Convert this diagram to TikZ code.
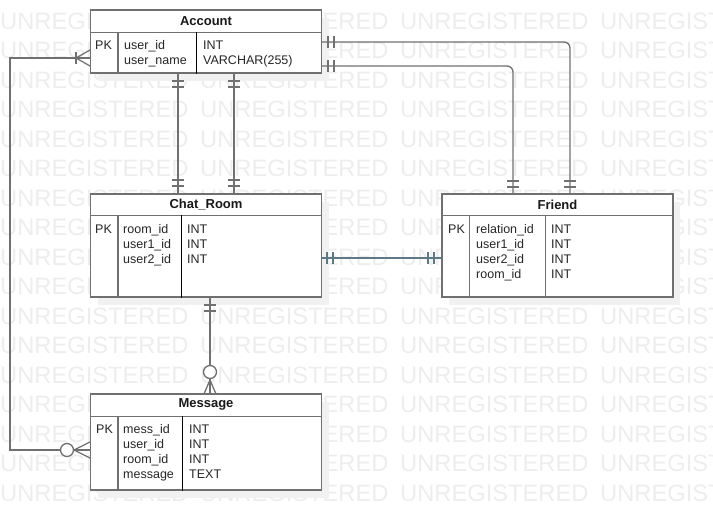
\documentclass[tikz,border=0pt]{standalone}
\usepackage{fontspec}
\setmainfont{Liberation Sans}
\usetikzlibrary{shadows}
\definecolor{linec}{HTML}{707070}
\definecolor{wm}{HTML}{EDEDED}
\definecolor{bluegray}{HTML}{5E7886}
\definecolor{shad}{HTML}{F1F1F1}
\begin{document}
\begin{tikzpicture}[x=1pt,y=-1pt,
 tbl/.style={draw=linec, line width=1.3pt, fill=white, inner sep=0pt, minimum width=231pt,
   drop shadow={shadow xshift=7pt, shadow yshift=-8pt, fill=shad, opacity=1}},
 tline/.style={draw=linec, line width=1.3pt},
 dline/.style={draw=black, line width=0.8pt},
 hdr/.style={font=\fontsize{13}{15}\bfseries\selectfont, inner sep=0pt, text=black!90},
 cell/.style={font=\fontsize{12.5}{15}\selectfont, inner sep=0pt, anchor=base west, text=black!85},
 conn/.style={draw=linec, line width=1.3pt},
 mk/.style={draw=linec, line width=1.3pt},
 wmk/.style={font=\fontsize{23.7}{28}\selectfont, text=wm, inner sep=0pt, anchor=west},
]
\useasboundingbox (0,0) rectangle (713,530);
\begin{scope}
\clip (0,0) rectangle (713,530);
\foreach \r in {0,...,16} {
  \foreach \c in {0,...,3} {
    \node[wmk] (wm-\r-\c) at (200*\c, 21+29.5*\r) {UNREGISTERED};
  }
}
\end{scope}

% ---------- Account ----------
\node[tbl, minimum height=63pt] (acc) at (206,41.5) {};
\draw[tline] ([yshift=-23pt]acc.north west) -- ([yshift=-23pt]acc.north east);
\draw[tline] ([xshift=28pt,yshift=-23pt]acc.north west) -- ([xshift=28pt]acc.south west);
\draw[dline] ([xshift=107pt,yshift=-23pt]acc.north west) -- ([xshift=107pt]acc.south west);
\node[hdr] (acc-h) at ([yshift=-11.5pt]acc.north) {Account};
\node[cell] (acc-pk) at (95,49.5) {PK};
\node[cell] (acc-n1) at (124,49.5) {user\_id};
\node[cell] (acc-n2) at (124,64.5) {user\_name};
\node[cell] (acc-t1) at (203,49.5) {INT};
\node[cell] (acc-t2) at (203,64.5) {VARCHAR(255)};

% ---------- Chat_Room ----------
\node[tbl, minimum height=103pt] (cr) at (206,245.5) {};
\draw[tline] ([yshift=-22pt]cr.north west) -- ([yshift=-22pt]cr.north east);
\draw[tline] ([xshift=28pt,yshift=-22pt]cr.north west) -- ([xshift=28pt]cr.south west);
\draw[dline] ([xshift=92pt,yshift=-22pt]cr.north west) -- ([xshift=92pt]cr.south west);
\node[hdr] (cr-h) at ([yshift=-11.5pt]cr.north) {Chat\_Room};
\node[cell] (cr-pk) at (95,233.5) {PK};
\node[cell] (cr-n1) at (123,233.5) {room\_id};
\node[cell] (cr-n2) at (123,248.5) {user1\_id};
\node[cell] (cr-n3) at (123,263.5) {user2\_id};
\node[cell] (cr-t1) at (187,233.5) {INT};
\node[cell] (cr-t2) at (187,248.5) {INT};
\node[cell] (cr-t3) at (187,263.5) {INT};

% ---------- Friend ----------
\node[tbl, minimum height=103pt] (fr) at (557.5,245.5) {};
\draw[tline] ([yshift=-22pt]fr.north west) -- ([yshift=-22pt]fr.north east);
\draw[tline] ([xshift=28pt,yshift=-22pt]fr.north west) -- ([xshift=28pt]fr.south west);
\draw[tline] ([xshift=104pt,yshift=-22pt]fr.north west) -- ([xshift=104pt]fr.south west);
\node[hdr] (fr-h) at ([yshift=-11.5pt]fr.north) {Friend};
\node[cell] (fr-pk) at (448,233.5) {PK};
\node[cell] (fr-n1) at (476,233.5) {relation\_id};
\node[cell] (fr-n2) at (476,248.5) {user1\_id};
\node[cell] (fr-n3) at (476,263.5) {user2\_id};
\node[cell] (fr-n4) at (476,278.5) {room\_id};
\node[cell] (fr-t1) at (551,233.5) {INT};
\node[cell] (fr-t2) at (551,248.5) {INT};
\node[cell] (fr-t3) at (551,263.5) {INT};
\node[cell] (fr-t4) at (551,278.5) {INT};

% ---------- Message ----------
\node[tbl, minimum height=96pt] (msg) at (206,442) {};
\draw[tline] ([yshift=-23pt]msg.north west) -- ([yshift=-23pt]msg.north east);
\draw[tline] ([xshift=28pt,yshift=-23pt]msg.north west) -- ([xshift=28pt]msg.south west);
\draw[dline] ([xshift=93pt,yshift=-23pt]msg.north west) -- ([xshift=93pt]msg.south west);
\node[hdr] (msg-h) at ([yshift=-11.5pt]msg.north) {Message};
\node[cell] (msg-pk) at (96,433.5) {PK};
\node[cell] (msg-n1) at (123,433.5) {mess\_id};
\node[cell] (msg-n2) at (123,448.5) {user\_id};
\node[cell] (msg-n3) at (123,463.5) {room\_id};
\node[cell] (msg-n4) at (123,478.5) {message};
\node[cell] (msg-t1) at (189,433.5) {INT};
\node[cell] (msg-t2) at (189,448.5) {INT};
\node[cell] (msg-t3) at (189,463.5) {INT};
\node[cell] (msg-t4) at (189,478.5) {TEXT};

% ---------- connectors ----------
\draw[conn, rounded corners=6pt] (acc.east |- 0,42) -| (fr.north -| 570,0);
\draw[conn, rounded corners=6pt] (acc.east |- 0,66) -| (fr.north -| 513,0);
\draw[conn] (acc.south -| 178,0) -- (cr.north -| 178,0);
\draw[conn] (acc.south -| 234,0) -- (cr.north -| 234,0);
\draw[conn, draw=bluegray] (cr.east |- 0,258) -- (fr.west |- 0,258);
\draw[conn] (cr.south -| 210,0) -- (msg.north -| 210,0);
\draw[conn] (msg.west |- 0,450) -- (10,450) -- (10,58) -- (acc.west |- 0,58);

% ---------- end marks ----------
% Account -> Friend
\draw[mk] (328,36) -- (328,48);
\draw[mk] (334,36) -- (334,48);
\draw[mk] (328,60) -- (328,72);
\draw[mk] (334,60) -- (334,72);
\draw[mk] (564,181) -- (576,181);
\draw[mk] (564,187) -- (576,187);
\draw[mk] (507,181) -- (519,181);
\draw[mk] (507,187) -- (519,187);
% Account -> Chat_Room
\draw[mk] (172,81) -- (184,81);
\draw[mk] (172,87) -- (184,87);
\draw[mk] (228,81) -- (240,81);
\draw[mk] (228,87) -- (240,87);
\draw[mk] (172,180) -- (184,180);
\draw[mk] (172,186) -- (184,186);
\draw[mk] (228,180) -- (240,180);
\draw[mk] (228,186) -- (240,186);
% Chat_Room -> Friend
\draw[mk, draw=bluegray] (327,252) -- (327,264);
\draw[mk, draw=bluegray] (333,252) -- (333,264);
\draw[mk, draw=bluegray] (428,252) -- (428,264);
\draw[mk, draw=bluegray] (434,252) -- (434,264);
% Chat_Room -> Message
\draw[mk] (204,305) -- (216,305);
\draw[mk] (204,311) -- (216,311);
\draw[mk, fill=white] (210,372) circle[radius=6.5pt];
\draw[mk, line join=round] (204,394) -- (210,380) -- (216,394);
% Message -> Account
\draw[mk] (76,52) -- (76,64);
\draw[mk, line join=round] (90,50) -- (76,58) -- (90,66);
\draw[mk, fill=white] (67,450) circle[radius=6.5pt];
\draw[mk, line join=round] (90,442) -- (74,450) -- (90,458);
\end{tikzpicture}
\end{document}
